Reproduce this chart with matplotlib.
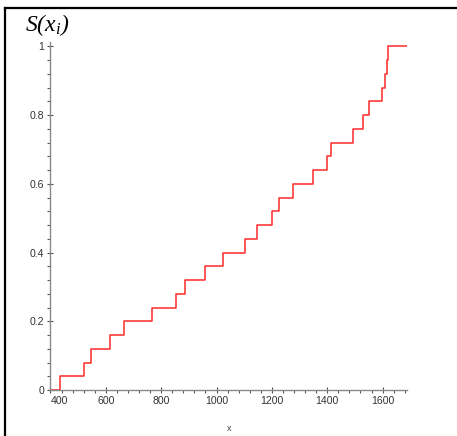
import numpy as np
import matplotlib
matplotlib.use("Agg")
import matplotlib.pyplot as plt
from matplotlib.lines import Line2D
from matplotlib.ticker import MultipleLocator

# --- Data: sorted sample values (25 points, step 1/25) ---
sample = [434, 522, 547, 614, 665, 768, 853, 887, 957, 1022,
          1102, 1145, 1202, 1225, 1275, 1350, 1398, 1415, 1494, 1530,
          1550, 1599, 1610, 1615, 1620]
x_ticks = [400, 600, 800, 1000, 1200, 1400, 1600]
y_ticks = [0, 0.2, 0.4, 0.6, 0.8, 1]
y_ticklabels = ["0", "0.2", "0.4", "0.6", "0.8", "1"]

plt.rcParams.update({
    "font.family": ["Liberation Sans", "DejaVu Sans"],
    "mathtext.fontset": "custom",
    "mathtext.rm": "Liberation Serif:italic",
    "mathtext.it": "Liberation Serif:italic",
})

# empirical distribution function
n = len(sample)
xs = [400] + sample + [1688]
ys = [0] + [(k + 1) / n for k in range(n)] + [1.0]

fig = plt.figure(figsize=(4.57, 4.36), dpi=100)
ax = fig.add_axes([0.1105, 0.1055, 0.7800, 0.7990])

ax.step(xs, ys, where="post", color="#ff2a2a", lw=1.1)

ax.set_xlim(400, 1688)
ax.set_ylim(0, 1.014)

for side in ("top", "right"):
    ax.spines[side].set_visible(False)
for side in ("left", "bottom"):
    ax.spines[side].set_color("#8a8a8a")
    ax.spines[side].set_linewidth(1.0)

ax.set_xticks(x_ticks)
ax.set_xticklabels([str(v) for v in x_ticks])
ax.set_yticks(y_ticks)
ax.set_yticklabels(y_ticklabels)
ax.xaxis.set_minor_locator(MultipleLocator(40))
ax.yaxis.set_minor_locator(MultipleLocator(0.04))
ax.tick_params(which="major", direction="inout", length=5, width=0.8,
               color="#555555", labelsize=7.6, labelcolor="#333333", pad=2)
ax.tick_params(which="minor", direction="out", length=2, width=0.8,
               color="#555555")
ax.get_xticklabels()[0].set_ha("left")

ax.set_xlabel("x", fontsize=6.5, color="#444444", labelpad=13)

fig.text(25 / 457, 1 - 31 / 436, r"$S(x_i)$", fontsize=17, color="black",
         ha="left", va="baseline")

# frame lines on top and left edge
fig.add_artist(Line2D([4.5 / 457, 1], [1 - 8 / 436, 1 - 8 / 436],
                      transform=fig.transFigure, color="black", lw=1.6))
fig.add_artist(Line2D([4.5 / 457, 4.5 / 457], [0, 1 - 8 / 436],
                      transform=fig.transFigure, color="black", lw=1.6))

fig.savefig("out.png", dpi=100)
